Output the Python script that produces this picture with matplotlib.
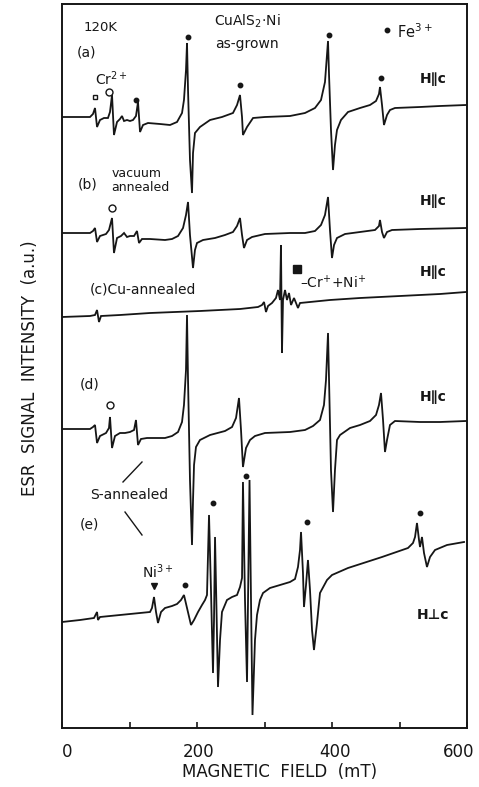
import matplotlib
matplotlib.use("Agg")
import matplotlib.pyplot as plt

plt.rcParams['font.family'] = ['DejaVu Sans']
plt.rcParams['mathtext.fontset'] = 'dejavusans'

# ESR spectra of CuAlS2:Ni at 120 K, magnetic field (mT) vs. signal (a.u., offset per trace)
field_a = [0, 26.7, 41.5, 45.9, 48.9, 51.9, 56.3, 62.2, 68.1, 71.1, 74.1, 77.0, 81.5, 85.9, 88.9, 91.9,
           96.3, 100.7, 105.2, 109.6, 112.6, 115.6, 120.0, 127.4, 145.2, 160.0, 170.4, 177.8, 180.7,
           183.7, 185.2, 186.7, 189.6, 192.6, 194.1, 197.0, 204.4, 219.3, 237.0, 253.3, 259.3, 263.7,
           266.7, 268.1, 274.1, 283.0, 300.7, 337.8, 360.0, 374.8, 383.7, 389.6, 394.1, 395.6, 398.5,
           401.5, 404.4, 407.4, 413.3, 423.7, 441.5, 456.3, 465.2, 469.6, 471.1, 474.1, 477.0, 481.5,
           485.9, 493.3, 530.4, 560.0, 598.5]
signal_a = [611, 611, 611, 614, 620, 601, 608, 610, 610, 616, 633, 593, 606, 609, 612, 607,
            608, 607, 608, 612, 626, 596, 603, 605, 604, 603, 606, 615, 628,
            658, 685, 638, 568, 535, 575, 595, 601, 608, 611, 615, 623, 633,
            611, 593, 601, 610, 611, 612, 615, 620, 628, 646, 687, 653, 598,
            558, 583, 598, 608, 616, 620, 623, 627, 634, 641, 623, 603, 613,
            618, 620, 621, 622, 623]

field_b = [0, 41.5, 45.9, 48.9, 51.9, 56.3, 65.2, 69.6, 74.1, 77.0, 81.5, 87.4, 91.9, 96.3, 100.7,
           106.7, 111.1, 114.1, 118.5, 130.4, 152.6, 163.0, 171.9, 179.3, 183.7, 186.7, 189.6, 194.1,
           197.0, 200.0, 208.9, 226.7, 241.5, 253.3, 259.3, 263.7, 266.7, 269.6, 274.1, 281.5, 300.7,
           337.8, 360.0, 374.8, 383.7, 389.6, 394.1, 397.0, 400.0, 403.0, 407.4, 419.3, 441.5, 463.7,
           469.6, 471.1, 474.1, 477.0, 481.5, 488.9, 530.4, 598.5]
signal_b = [495, 495, 497, 500, 486, 492, 494, 498, 510, 475, 490, 492, 495, 491, 492,
            492, 497, 485, 489, 489, 488, 489, 492, 500, 513, 526, 493, 460,
            478, 485, 488, 490, 493, 496, 502, 510, 493, 480, 488, 491, 494,
            495, 495, 497, 503, 513, 531, 498, 470, 483, 490, 494, 496, 498,
            502, 508, 496, 490, 496, 498, 499, 500]

field_c = [0, 41.5, 48.9, 51.9, 54.8, 57.8, 85.9, 130.4, 204.4, 263.7, 290.4, 296.3, 299.3, 302.2,
           305.2, 311.1, 317.0, 320.0, 323.0, 324.4, 325.9, 327.4, 330.4, 333.3, 336.3, 339.3, 343.7,
           346.7, 349.6, 352.6, 367.4, 397.0, 441.5, 500.7, 560.0, 598.5]
signal_c = [411, 412, 413, 418, 406, 412, 413, 415, 417, 419, 421, 423, 426, 416,
            422, 425, 430, 438, 428, 483, 375, 428, 438, 428, 435, 423, 430,
            425, 420, 425, 426, 428, 430, 432, 434, 436]

field_d = [0, 41.5, 45.9, 48.9, 51.9, 56.3, 65.2, 69.6, 71.1, 74.1, 78.5, 85.9, 93.3, 100.7, 106.7,
           109.6, 112.6, 117.0, 125.9, 152.6, 163.0, 171.9, 177.8, 180.7, 183.7, 185.2, 186.7, 189.6,
           192.6, 194.1, 195.6, 198.5, 204.4, 219.3, 241.5, 251.9, 257.8, 262.2, 265.2, 268.1, 272.6,
           278.5, 285.9, 300.7, 337.8, 360.0, 371.9, 382.2, 388.1, 391.1, 394.1, 395.6, 398.5, 401.5,
           404.4, 407.4, 411.9, 426.7, 441.5, 456.3, 465.2, 469.6, 472.6, 475.6, 478.5, 481.5, 485.9,
           493.3, 530.4, 560.0, 598.5]
signal_d = [299, 299, 301, 303, 285, 292, 295, 300, 311, 280, 292, 295, 295, 296, 298,
            308, 283, 289, 290, 290, 292, 296, 306, 323, 358, 413, 348, 248,
            183, 228, 263, 281, 288, 293, 297, 301, 310, 330, 298, 261, 280,
            288, 292, 295, 296, 298, 302, 308, 323, 348, 395, 348, 258, 216,
            258, 288, 293, 300, 303, 307, 313, 323, 335, 308, 276, 288, 303,
            307, 306, 306, 307]

field_e = [0, 26.7, 47.4, 50.4, 51.9, 53.3, 56.3, 85.9, 115.6, 130.4, 133.3, 136.3, 139.3, 142.2,
           146.7, 152.6, 163.0, 170.4, 176.3, 180.7, 185.2, 191.1, 195.6, 201.5, 207.4, 211.9, 214.8,
           217.8, 220.7, 223.7, 225.2, 226.7, 228.9, 231.1, 234.1, 237.0, 244.4, 251.9, 259.3, 263.7,
           266.7, 268.1, 271.1, 274.1, 275.6, 277.8, 280.0, 282.2, 285.9, 288.9, 293.3, 297.8, 308.1,
           323.0, 337.8, 345.2, 349.6, 352.6, 354.1, 357.0, 358.5, 361.5, 364.4, 367.4, 370.4, 373.3,
           377.8, 382.2, 392.6, 400.0, 423.7, 474.1, 512.6, 520.0, 523.0, 525.9, 528.9, 530.4, 533.3,
           536.3, 540.7, 545.2, 552.6, 570.4, 595.6]
signal_e = [106, 108, 110, 114, 116, 108, 111, 113, 115, 116, 120, 131, 116, 105,
            116, 120, 122, 124, 128, 133, 120, 103, 108, 116, 123, 128, 133,
            213, 138, 55, 108, 191, 118, 41, 88, 116, 128, 131, 133, 141,
            150, 246, 128, 46, 128, 248, 128, 13, 88, 113, 128, 135, 140,
            143, 146, 149, 161, 178, 196, 155, 121, 143, 168, 138, 98, 78,
            105, 135, 148, 153, 160, 171, 180, 185, 191, 205, 188, 181, 191,
            175, 161, 171, 178, 183, 186]

traces = [(field_a, signal_a), (field_b, signal_b), (field_c, signal_c),
          (field_d, signal_d), (field_e, signal_e)]

tick_values = [0, 100, 200, 300, 400, 500, 600]
label_values = [0, 200, 400, 600]
label_texts = ['0', '200', '400', '600']

ink = '#161616'
W, H = 479, 787
AX_L, AX_B, AX_W, AX_H = 62, 59, 405, 724

fig = plt.figure(figsize=(W / 100, H / 100), dpi=100)
ax = fig.add_axes([AX_L / W, AX_B / H, AX_W / W, AX_H / H])

for fld, sig in traces:
    ax.plot(fld, sig, color=ink, lw=1.3, solid_joinstyle='miter')

ax.set_xlim(0, 600)
ax.set_ylim(0, 724)
ax.set_xticks(tick_values)
ax.set_xticklabels([])
ax.set_yticks([])
ax.tick_params(axis='x', direction='in', length=4, width=1.2, colors=ink)
for sp in ax.spines.values():
    sp.set_linewidth(1.4)
    sp.set_color(ink)

# tick labels below the axis; the outermost ones are nudged so they stay inside the page
nudge = [5, 2, 3, -8]
for v, s, dx in zip(label_values, label_texts, nudge):
    xpx = AX_L + AX_W * v / 600 + dx
    fig.text(xpx / W, 1 - 752 / H, s, ha='center', va='center', fontsize=12, color=ink)

fig.text(280 / W, 1 - 772 / H, 'MAGNETIC  FIELD  (mT)', ha='center', va='center',
         fontsize=12, color=ink)
fig.text(30 / W, 1 - 368 / H, 'ESR  SIGNAL  INTENSITY  (a.u.)', ha='center', va='center',
         rotation=90, fontsize=12, color=ink)

T = ax.transAxes


def label(x, y, s, size=10, **kw):
    ax.text(x, y, s, transform=T, fontsize=size, color=ink, **kw)


# panel labels and sample descriptions
label(0.0963, 0.9682, '120K', 9.5, ha='center', va='center')
label(0.0593, 0.9337, '(a)', 10, ha='center', va='center')
label(0.0815, 0.8881, 'Cr$^{2+}$', 10, ha='left', va='baseline')
label(0.4568, 0.9765, 'CuAlS$_2$·Ni', 10, ha='center', va='center')
label(0.4568, 0.9448, 'as-grown', 10, ha='center', va='center')
label(0.8272, 0.9530, 'Fe$^{3+}$', 10.5, ha='left', va='baseline')

label(0.0642, 0.7500, '(b)', 10, ha='center', va='center')
label(0.1852, 0.7652, 'vacuum', 9, ha='center', va='center')
label(0.1926, 0.7472, 'annealed', 9, ha='center', va='center')

label(0.2000, 0.6050, '(c)Cu-annealed', 10, ha='center', va='center')
label(0.5877, 0.6077, '–Cr$^{+}$+Ni$^{+}$', 10, ha='left', va='baseline')

label(0.0691, 0.4738, '(d)', 10, ha='center', va='center')
label(0.1654, 0.3218, 'S-annealed', 10, ha='center', va='center')
label(0.0667, 0.2804, '(e)', 10, ha='center', va='center')
label(0.1975, 0.2072, 'Ni$^{3+}$', 10, ha='left', va='baseline')

ax.plot([0.1506, 0.1975], [0.3398, 0.3674], transform=T, color=ink, lw=1.0)
ax.plot([0.1556, 0.1975], [0.2983, 0.2666], transform=T, color=ink, lw=1.0)

# field orientation labels
for y in (0.8964, 0.7279, 0.6298, 0.4572):
    label(0.9160, y, 'H∥c', 10, ha='center', va='center', fontweight='bold')
label(0.9160, 0.1561, 'H⊥c', 10, ha='center', va='center', fontweight='bold')

# line assignment markers
fe_dots = [(0.3111, 0.9544), (0.4395, 0.8881), (0.6593, 0.9572), (0.7877, 0.8978),
           (0.1827, 0.8674), (0.8025, 0.9641),
           (0.3037, 0.1975), (0.3728, 0.3108), (0.4543, 0.3481), (0.6049, 0.2845), (0.8840, 0.2970)]
for x, y in fe_dots:
    ax.plot(x, y, 'o', transform=T, ms=3.2, color=ink)
for x, y in [(0.1160, 0.8785), (0.1235, 0.7182), (0.1185, 0.4461)]:
    ax.plot(x, y, 'o', transform=T, ms=5, mfc='white', mec=ink, mew=1.0)
ax.plot(0.0815, 0.8715, 's', transform=T, ms=3.5, mfc='white', mec=ink, mew=1.0)
ax.plot(0.5802, 0.6340, 's', transform=T, ms=5.5, color=ink)
ax.plot(0.2272, 0.1961, 'v', transform=T, ms=5, color=ink)

fig.savefig('out.png', dpi=100, facecolor='white')
